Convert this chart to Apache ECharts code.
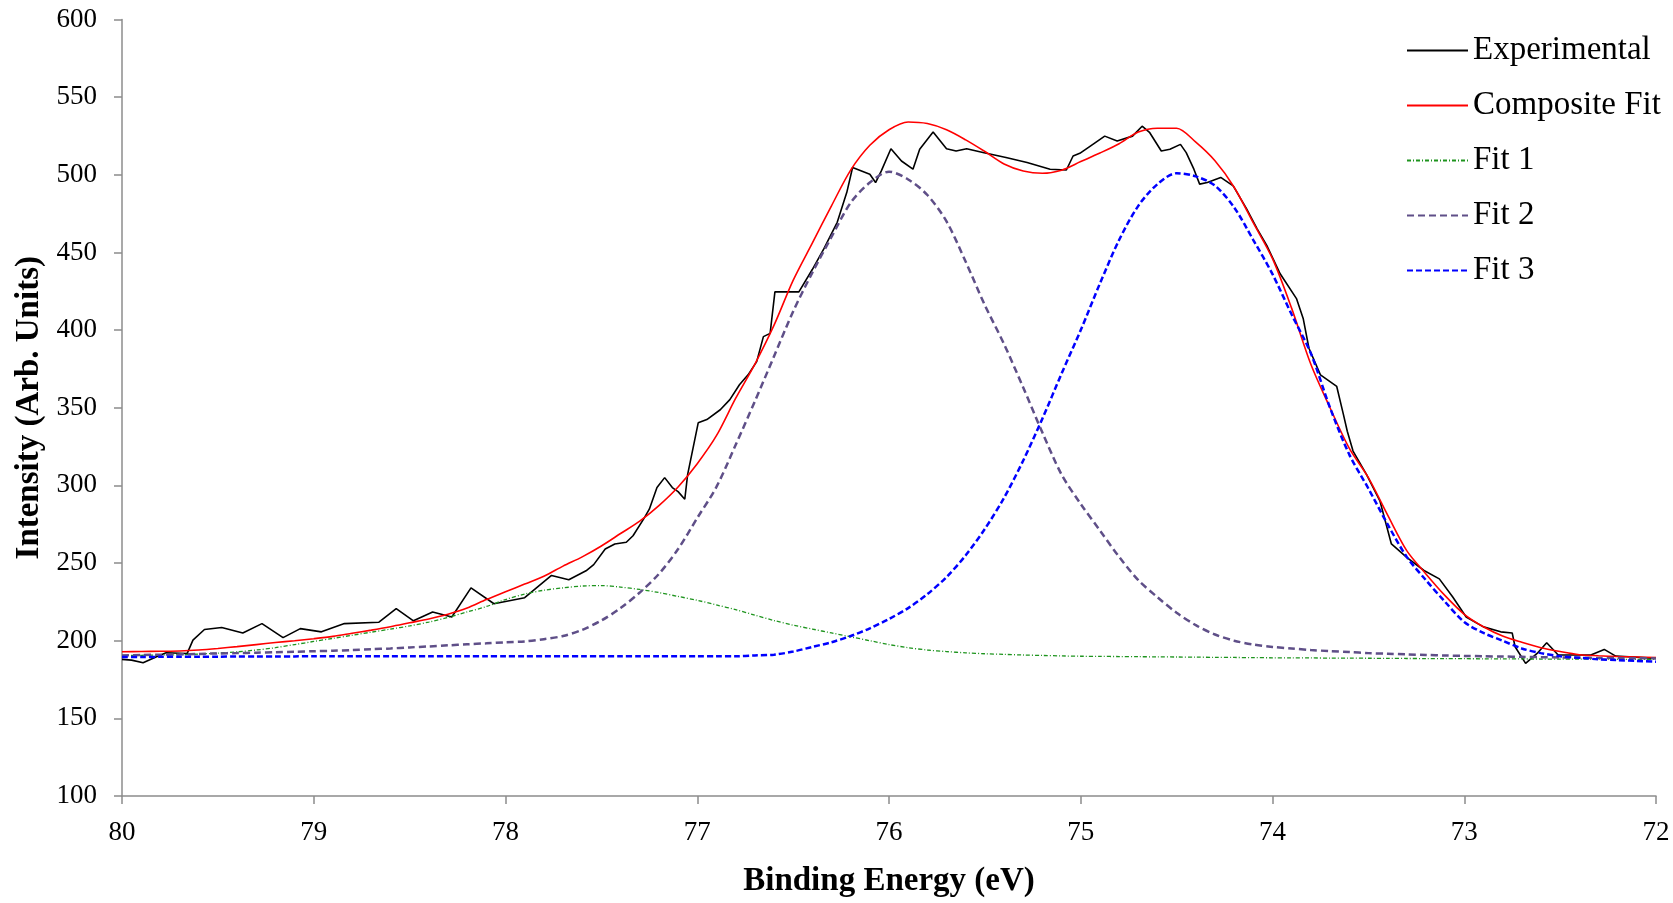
<!DOCTYPE html>
<html>
<head>
<meta charset="utf-8">
<title>XPS fit</title>
<script src="https://cdn.jsdelivr.net/npm/echarts@6/dist/echarts.min.js"></script>
<style>
  html, body { margin: 0; padding: 0; background: #fff; }
  #chart { width: 1673px; height: 903px; }
</style>
</head>
<body>
<div id="chart"></div>
<script>
// Experimental spectrum, [binding energy, intensity]
const experimental = [
  [80.0, 188], [79.95, 187.5], [79.89, 185.8], [79.82, 189.7], [79.77, 192.2], [79.66, 191.8],
  [79.63, 200.4], [79.57, 207.2], [79.48, 208.5], [79.37, 205], [79.27, 211], [79.16, 202],
  [79.07, 207.8], [78.96, 205.7], [78.84, 211], [78.66, 211.9], [78.57, 220.6], [78.48, 212.8],
  [78.38, 218.5], [78.28, 215.3], [78.18, 234], [78.06, 223.8], [77.90, 227.7], [77.76, 242],
  [77.67, 239.2], [77.58, 245], [77.54, 249], [77.48, 259], [77.43, 262.3], [77.37, 263.4],
  [77.335, 267.6], [77.28, 278.3], [77.25, 284.7], [77.21, 298.6], [77.17, 305], [77.13, 298.6],
  [77.10, 296], [77.065, 291.1], [77.05, 307.1], [76.995, 340.3], [76.95, 342.4], [76.88, 348.7],
  [76.83, 355.2], [76.78, 364.8], [76.735, 371.2], [76.69, 379.7], [76.655, 395.8], [76.62, 397.9],
  [76.595, 424.6], [76.47, 424.6], [76.40, 439], [76.34, 452.3], [76.27, 469.4], [76.22, 488.7],
  [76.19, 504.7], [76.10, 500.4], [76.07, 495], [76.04, 502.5], [75.99, 516.8], [75.935, 508.9],
  [75.875, 503.6], [75.84, 516.4], [75.77, 527.5], [75.70, 516.8], [75.65, 515.3], [75.595, 516.8],
  [75.51, 514.3], [75.39, 511.1], [75.28, 507.9], [75.16, 503.6], [75.075, 503.1], [75.04, 512.1],
  [75.005, 513.8], [74.95, 518.5], [74.875, 524.9], [74.81, 521.7], [74.73, 524.9], [74.68, 531.3],
  [74.64, 527.1], [74.58, 515.3], [74.535, 516.4], [74.48, 519.6], [74.45, 514.3], [74.41, 503.6],
  [74.38, 494], [74.34, 495], [74.27, 498.3], [74.205, 492.9], [74.135, 478], [74.08, 465.2],
  [74.03, 454.5], [73.96, 436.3], [73.875, 420.3], [73.84, 407.5], [73.81, 388.3], [73.75, 371.2],
  [73.665, 363.7], [73.63, 345.6], [73.61, 334.9], [73.58, 322.1], [73.51, 307.1], [73.44, 290.1],
  [73.38, 262.3], [73.30, 253.7], [73.21, 245.2], [73.13, 239.8], [73.06, 228.1], [72.99, 215.3],
  [72.90, 208.9], [72.81, 205.7], [72.75, 205], [72.735, 196.1], [72.68, 185.4], [72.62, 191.8],
  [72.57, 198.7], [72.51, 190.8], [72.34, 190.8], [72.27, 194.4], [72.21, 190.1], [72.0, 188.6]
];

// energy grid shared by the fitted curves
const fitEnergy = [
  80.0, 79.9, 79.8, 79.7, 79.6, 79.5, 79.4, 79.3, 79.2, 79.1,
  79.0, 78.9, 78.8, 78.7, 78.6, 78.5, 78.4, 78.3, 78.2, 78.1,
  78.0, 77.9, 77.8, 77.7, 77.6, 77.5, 77.4, 77.3, 77.2, 77.1,
  77.0, 76.9, 76.8, 76.7, 76.6, 76.5, 76.4, 76.3, 76.2, 76.1,
  76.0, 75.9, 75.8, 75.7, 75.6, 75.5, 75.4, 75.3, 75.2, 75.1,
  75.0, 74.9, 74.8, 74.7, 74.6, 74.5, 74.4, 74.3, 74.2, 74.1,
  74.0, 73.9, 73.8, 73.7, 73.6, 73.5, 73.4, 73.3, 73.2, 73.1,
  73.0, 72.9, 72.8, 72.7, 72.6, 72.5, 72.4, 72.3, 72.2, 72.1,
  72.0
];

const compositeFit = [
  192.9, 193, 193.2, 193.4, 194, 195, 196.2, 197.5, 198.8, 200,
  201.3, 202.8, 204.8, 206.8, 209, 211.5, 214, 217, 221, 226.5,
  231.5, 236.5, 241.5, 248, 254, 261, 269, 277, 287, 299,
  314, 332, 356, 378, 403, 432, 456, 480, 503, 519,
  529, 534, 533, 529, 522.5, 515, 507, 502.5, 501, 503,
  508.5, 514, 520, 527.5, 530, 530, 521, 509, 492, 469,
  446, 414, 378, 350, 324, 305, 281, 258, 243, 229,
  217, 209, 203, 199, 195.5, 193, 191, 190.3, 189.8, 189.5,
  189.2
];

const fit1 = [
  190.5, 190.6, 190.8, 191, 191.4, 192, 192.8, 194, 195.5, 197.5,
  199.5, 201.5, 203.5, 205.5, 207.5, 209.5, 212, 215, 218.5, 222,
  226.5, 230, 232.5, 234, 235.2, 235.5, 234.5, 233, 231, 228.5,
  226, 223, 220, 216.5, 213, 210, 207.5, 205, 202.5, 200,
  197.5, 195.5, 194, 193, 192.2, 191.6, 191.2, 190.8, 190.5, 190.2,
  190, 189.9, 189.8, 189.7, 189.6, 189.5, 189.4, 189.3, 189.2, 189.1,
  189, 188.95, 188.9, 188.8, 188.75, 188.7, 188.6, 188.55, 188.5, 188.45,
  188.4, 188.35, 188.3, 188.25, 188.2, 188.2, 188.15, 188.1, 188.05, 188,
  188
];

const fit2 = [
  190.5, 190.8, 191, 191.2, 191.5, 191.8, 192, 192.3, 192.6, 192.9,
  193.2, 193.5, 194, 194.5, 195, 195.7, 196.3, 197, 197.7, 198.3,
  199, 199.5, 201, 203, 207, 213, 221, 231, 243, 259,
  279, 299, 326, 354, 383, 412, 437, 460, 482, 495,
  502, 497, 487, 470, 444, 416, 391, 363, 334, 307,
  288, 271, 254, 239, 228, 218, 210, 204, 200, 197.5,
  196, 195, 194, 193.3, 192.7, 192, 191.6, 191.2, 190.8, 190.5,
  190.2, 190, 189.8, 189.6, 189.4, 189.2, 189, 188.9, 188.8, 188.7,
  188.6
];

const fit3 = [
  189.5, 189.5, 189.6, 189.6, 189.7, 189.7, 189.8, 189.8, 189.9, 189.9,
  190, 190, 190, 190, 190, 190, 190, 190, 190, 190,
  190, 190, 190, 190, 190, 190, 190, 190, 190, 190,
  190, 190, 190, 190.5, 191, 193, 196, 199, 203, 208,
  214, 221, 230, 241, 255, 272, 292, 316, 343, 372,
  400, 430, 458, 480, 494, 501, 499, 493, 479, 458,
  436, 410, 385, 350, 320, 298, 275, 254, 239, 225,
  212, 205, 200, 195, 192, 190, 189, 188, 187.5, 187,
  186.5
];

const yTicks = { min: 100, max: 600, step: 50 };
const xTicks = { min: 72, max: 80, step: 1 };

const pair = (ys) => fitEnergy.map((x, i) => [x, ys[i]]);

const FONT = 'Liberation Serif';
const axisGrey = '#8c8c8c';

const chart = echarts.init(document.getElementById('chart'), null, { renderer: 'canvas' });

const option = {
  animation: false,
  backgroundColor: '#ffffff',
  textStyle: { fontFamily: FONT },
  grid: { left: 122, right: 17, top: 19.5, bottom: 103 },
  legend: {
    orient: 'vertical',
    left: 1401,
    top: 29,
    itemWidth: 61,
    itemHeight: 14,
    itemGap: 22,
    itemTextGap: 6,
    // hide the symbol dot, keep only the line sample
    itemStyle: { opacity: 0, color: 'transparent', borderWidth: 0 },
    textStyle: { fontFamily: FONT, fontSize: 33, color: '#000' },
    data: ['Experimental', 'Composite Fit', 'Fit 1', 'Fit 2', 'Fit 3']
  },
  xAxis: {
    type: 'value',
    inverse: true,
    min: xTicks.min,
    max: xTicks.max,
    interval: xTicks.step,
    name: 'Binding Energy (eV)',
    nameLocation: 'middle',
    nameGap: 69,
    nameTextStyle: { fontFamily: FONT, fontSize: 33, fontWeight: 'bold', color: '#000' },
    axisLine: { show: true, lineStyle: { color: axisGrey, width: 1.5 } },
    axisTick: { show: true, inside: false, length: 8, lineStyle: { color: axisGrey, width: 1.5 } },
    axisLabel: { margin: 23, fontFamily: FONT, fontSize: 27, color: '#000' },
    splitLine: { show: false }
  },
  yAxis: {
    type: 'value',
    min: yTicks.min,
    max: yTicks.max,
    interval: yTicks.step,
    name: 'Intensity (Arb. Units)',
    nameLocation: 'middle',
    nameGap: 76,
    nameTextStyle: { fontFamily: FONT, fontSize: 33, fontWeight: 'bold', color: '#000' },
    axisLine: { show: true, lineStyle: { color: axisGrey, width: 1.5 } },
    axisTick: { show: true, inside: false, length: 8, lineStyle: { color: axisGrey, width: 1.5 } },
    axisLabel: { margin: 25, fontFamily: FONT, fontSize: 27, color: '#000' },
    splitLine: { show: false }
  },
  series: [
    {
      name: 'Experimental',
      type: 'line',
      data: experimental,
      showSymbol: false,
      symbol: 'none',
      lineStyle: { color: '#000000', width: 1.6 },
      itemStyle: { color: '#000000' }
    },
    {
      name: 'Composite Fit',
      type: 'line',
      data: pair(compositeFit),
      smooth: 0.3,
      showSymbol: false,
      symbol: 'none',
      lineStyle: { color: '#ff0000', width: 1.6 },
      itemStyle: { color: '#ff0000' }
    },
    {
      name: 'Fit 1',
      type: 'line',
      data: pair(fit1),
      smooth: 0.3,
      showSymbol: false,
      symbol: 'none',
      lineStyle: { color: '#1e941e', width: 1.3, type: [4, 2, 1, 2] },
      itemStyle: { color: '#1e941e' }
    },
    {
      name: 'Fit 2',
      type: 'line',
      data: pair(fit2),
      smooth: 0.3,
      showSymbol: false,
      symbol: 'none',
      lineStyle: { color: '#5f4f88', width: 2.5, type: [7, 4] },
      itemStyle: { color: '#5f4f88' }
    },
    {
      name: 'Fit 3',
      type: 'line',
      data: pair(fit3),
      smooth: 0.3,
      showSymbol: false,
      symbol: 'none',
      lineStyle: { color: '#0000ff', width: 2.5, type: [6, 3] },
      itemStyle: { color: '#0000ff' }
    }
  ]
};

chart.setOption(option);
</script>
</body>
</html>
